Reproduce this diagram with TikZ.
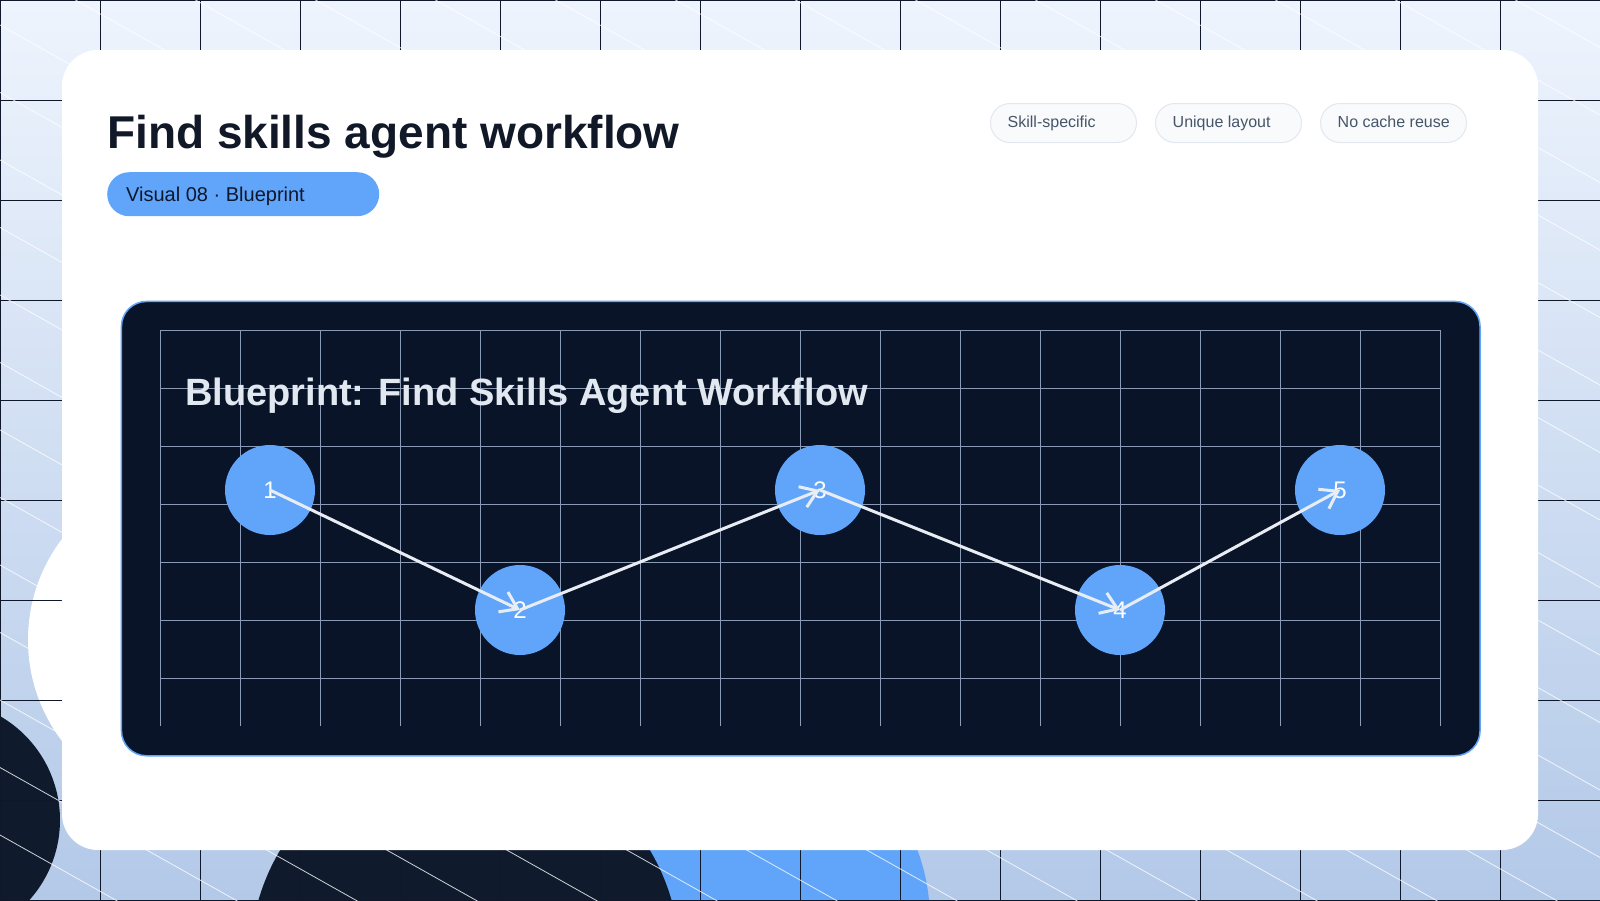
\documentclass[tikz,border=0pt]{standalone}
\usepackage{fontspec}
\setmainfont{Liberation Sans}
\usetikzlibrary{arrows.meta,calc}
\definecolor{bgtop}{HTML}{EEF4FD}
\definecolor{bgbot}{HTML}{B3C9E8}
\definecolor{gridblack}{HTML}{0F172A}
\definecolor{darkblob}{HTML}{0F1A2C}
\definecolor{accent}{HTML}{60A5FA}
\definecolor{titlecol}{HTML}{111827}
\definecolor{pilltext}{HTML}{0F172A}
\definecolor{tagfill}{HTML}{F8FAFC}
\definecolor{tagline}{HTML}{E2E8F0}
\definecolor{tagtext}{HTML}{475569}
\definecolor{panelfill}{HTML}{0A1429}
\definecolor{innergrid}{HTML}{8C9BB5}
\definecolor{paneltext}{HTML}{E2E8F0}
\definecolor{flowcol}{HTML}{E8EDF4}
\tikzset{
  bggrid/.style={draw=gridblack, line width=1pt},
  diagline/.style={draw=white, line width=0.8pt, opacity=0.8},
  tagpill/.style={draw=tagline, line width=1pt, fill=tagfill, rounded corners=19.5pt,
    minimum width=146pt, minimum height=39pt, inner sep=0pt, anchor=north west},
  tagtxt/.style={anchor=base west, inner sep=0pt, text=tagtext, font=\fontsize{16}{19}\selectfont},
  bluepill/.style={fill=accent, rounded corners=22pt, minimum width=272pt, minimum height=44pt,
    inner sep=0pt, anchor=north west},
  pilltxt/.style={anchor=base west, inner sep=0pt, text=pilltext, font=\fontsize{20}{24}\selectfont},
  panelbox/.style={draw=accent, line width=1.5pt, fill=panelfill, rounded corners=25pt,
    minimum width=1358.6pt, minimum height=454.3pt, anchor=north west, inner sep=0pt},
  innerline/.style={draw=innergrid, line width=1pt},
  stepnode/.style={circle, fill=accent, minimum size=90pt, inner sep=0pt, text=white,
    font=\fontsize{24}{28}\selectfont},
  flow/.style={draw=flowcol, line width=3pt, -{Straight Barb[length=16pt, width=22pt]}},
}
\begin{document}
\begin{tikzpicture}[x=1pt, y=-1pt]
\useasboundingbox (0,0) rectangle (1600,900);
\begin{scope}
  \clip (0,0) rectangle (1600,900);
  \shade[top color=bgtop, bottom color=bgbot] (0,0) rectangle (1600,900);
  \fill[white] (195,640) circle[radius=167pt];
  \fill[accent] (730,920) circle[radius=200pt];
  \fill[darkblob] (465,960) circle[radius=215pt];
  \fill[darkblob] (-60,820) circle[radius=120pt];
  \foreach \x in {0.5,100,200,...,1600} \draw[bggrid] (\x,0) -- (\x,900);
  \foreach \y in {0.5,100,200,...,900} \draw[bggrid] (0,\y) -- (1600,\y);
  \foreach \k in {-14,...,13} \draw[diagline] (0,{25+67.5*\k}) -- (1600,{925+67.5*\k});
\end{scope}
% card
\fill[white, rounded corners=36pt] (62,50) rectangle (1538,850);
% header
\node[anchor=base west, inner sep=0pt, text=titlecol, font=\fontsize{46}{52}\selectfont\bfseries]
  (title) at (107,148) {Find skills agent workflow};
\node[bluepill] (visual) at (107,172) {};
\node[pilltxt] (visualt) at ($(visual.north west)+(19,29.7)$) {Visual 08 · Blueprint};
\node[tagpill] (tag1) at (990,103) {};
\node[tagpill] (tag2) at (1155,103) {};
\node[tagpill] (tag3) at (1320,103) {};
\node[tagtxt] (tag1t) at ($(tag1.north west)+(17.5,24.7)$) {Skill-specific};
\node[tagtxt] (tag2t) at ($(tag2.north west)+(17.5,24.7)$) {Unique layout};
\node[tagtxt] (tag3t) at ($(tag3.north west)+(17.5,24.7)$) {No cache reuse};
% panel
\node[panelbox] (panel) at (120.7,300.7) {};
\foreach \x in {160,240,...,1440} \draw[innerline] (\x,330) -- (\x,726);
\foreach \y in {330,388,446,504,562,620,678} \draw[innerline] (160,\y) -- (1440,\y);
\node[anchor=base west, inner sep=0pt, text=paneltext, font=\fontsize{38}{44}\selectfont\bfseries]
  (ptitle) at (185,405) {Blueprint: Find Skills Agent Workflow};
% steps
\node[stepnode] (n1) at (270,490) {1};
\node[stepnode] (n2) at (520,610) {2};
\node[stepnode] (n3) at (820,490) {3};
\node[stepnode] (n4) at (1120,610) {4};
\node[stepnode] (n5) at (1340,490) {5};
\draw[flow] (n1.center) -- (n2.center);
\draw[flow] (n2.center) -- (n3.center);
\draw[flow] (n3.center) -- (n4.center);
\draw[flow] (n4.center) -- (n5.center);
\end{tikzpicture}
\end{document}
